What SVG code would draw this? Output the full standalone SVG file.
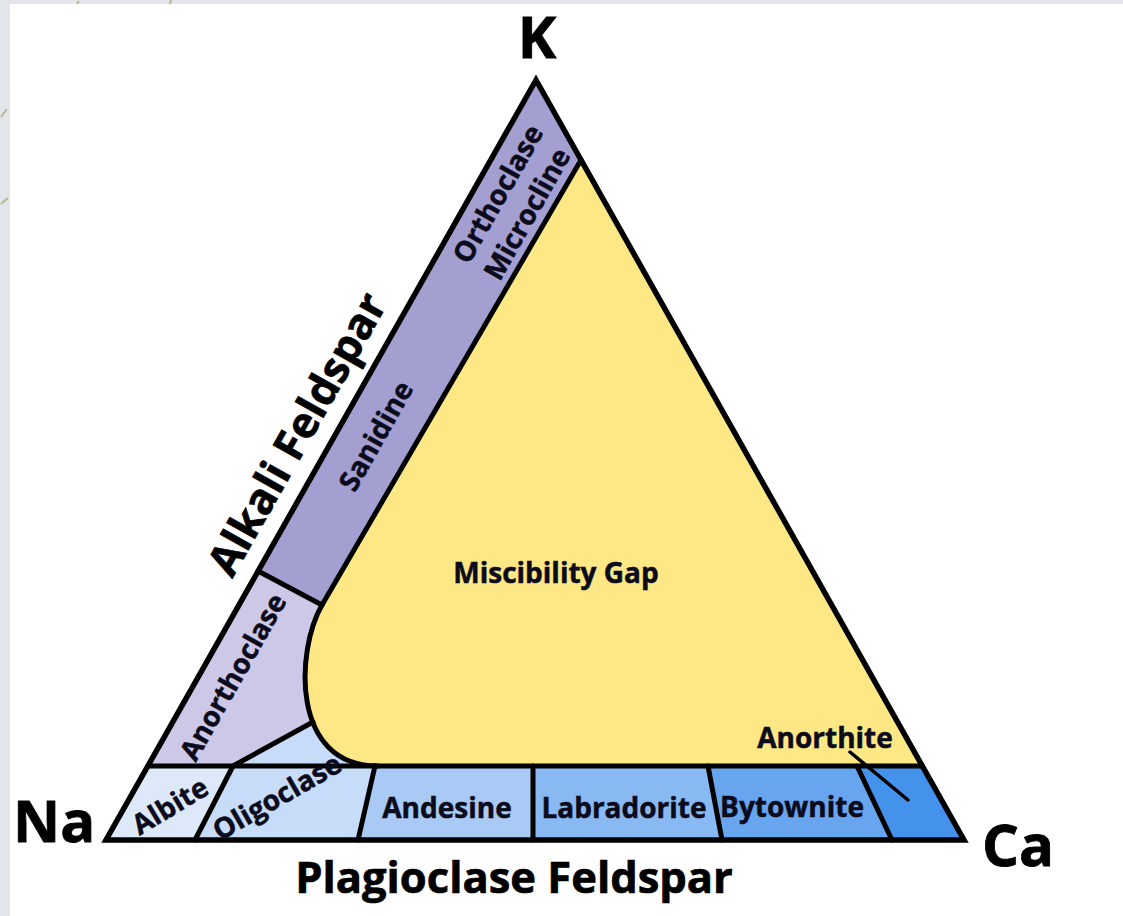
<svg xmlns="http://www.w3.org/2000/svg" width="1123" height="916" viewBox="0 0 1123 916">
<style>
.t{font-family:"Open Sans","Noto Sans","DejaVu Sans",sans-serif;font-weight:700;fill:#0b0b1c;stroke:#0b0b1c;stroke-width:0.5}
.lbl{font-size:28px}
.big{font-size:58px;fill:#000;stroke:#000;stroke-width:0.8}
.axis{font-size:43.5px;fill:#000;stroke:#000;stroke-width:0.7}
.ln{fill:none;stroke:#000;stroke-width:5;stroke-linejoin:round;stroke-linecap:round}
.mark{stroke:#b7b98c;stroke-width:2;fill:none}
</style>
<rect width="1123" height="916" fill="#e2e5e9"/>
<rect x="10" y="4" width="1113" height="912" fill="#fff"/>
<g id="marks">
<path class="mark" d="M1,117 L7,109 M1,204 L8,198 M77,4 L79,1 M170,4 L171,0"/>
</g>
<g id="alkali-feldspar">
<polygon points="536,80 581,160 322,605 258,571 106,840" fill="#a49fd1"/>
</g>
<g id="anorthoclase">
<polygon points="258,571 322,605 345,640 345,722 313,722 233,766 148,766" fill="#cdc8e7"/>
</g>
<g id="albite">
<polygon points="148,766 233,766 195,840 106,840" fill="#dde9f9"/>
</g>
<g id="oligoclase">
<polygon points="195,840 233,766 313,722 350,730 376,766 358,840" fill="#c7dcf8"/>
</g>
<g id="andesine">
<polygon points="375,766 533,766 533,840 358,840" fill="#a8caf4"/>
</g>
<g id="labradorite">
<polygon points="533,766 708,766 722,840 533,840" fill="#89b9f3"/>
</g>
<g id="bytownite">
<polygon points="708,766 857,766 892,840 722,840" fill="#68a5ef"/>
</g>
<g id="anorthite">
<polygon points="857,766 922,766 964,840 892,840" fill="#4592ec"/>
</g>
<g id="miscibility-gap">
<path d="M581,160 L922,766 L378,766 C290,766 296,650 322,605 Z" fill="#fde885"/>
</g>
<g id="connectors">
<path class="ln" d="M581,160 L322,605 C296,650 290,766 378,766"/>
<path class="ln" d="M148,766 L922,766"/>
<path class="ln" d="M258,571 L322,605"/>
<path class="ln" d="M233,766 L313,722"/>
<path class="ln" d="M233,766 L195,840 M375,766 L358,840 M533,766 L533,840 M708,766 L722,840 M857,766 L892,840"/>
<path class="ln" d="M850,752 L908,800" style="stroke-width:3.5"/>
<path d="M536,80 L106,840 L964,840 Z" fill="none" stroke="#000" stroke-width="5.5" stroke-linejoin="miter"/>
</g>
<g id="labels">
<text class="t big" x="537" y="58" text-anchor="middle">K</text>
<text class="t big" x="13" y="842">Na</text>
<text class="t big" x="982" y="866">Ca</text>
<text class="t axis" x="514" y="893" text-anchor="middle">Plagioclase Feldspar</text>
<text class="t axis" text-anchor="middle" dy="0.35em" transform="translate(297,434) rotate(-60.5)" style="font-size:43px">Alkali Feldspar</text>
<text class="t lbl" text-anchor="middle" dy="0.35em" transform="translate(376,436) rotate(-60.5)">Sanidine</text>
<text class="t lbl" text-anchor="middle" dy="0.35em" transform="translate(498,194) rotate(-60.5)">Orthoclase</text>
<text class="t lbl" text-anchor="middle" dy="0.35em" transform="translate(527,214) rotate(-60.5)">Microcline</text>
<text class="t lbl" text-anchor="middle" dy="0.35em" transform="translate(233,677) rotate(-60.5)">Anorthoclase</text>
<text class="t lbl" x="556" y="583" text-anchor="middle">Miscibility Gap</text>
<text class="t lbl" x="825" y="748" text-anchor="middle">Anorthite</text>
<text class="t lbl" text-anchor="middle" dy="0.35em" transform="translate(170,806) rotate(-31)">Albite</text>
<text class="t lbl" text-anchor="middle" dy="0.35em" transform="translate(277,797) rotate(-30)">Oligoclase</text>
<text class="t lbl" x="447" y="818" text-anchor="middle">Andesine</text>
<text class="t lbl" x="624" y="818" text-anchor="middle">Labradorite</text>
<text class="t lbl" x="792" y="817" text-anchor="middle">Bytownite</text>
</g>
</svg>
